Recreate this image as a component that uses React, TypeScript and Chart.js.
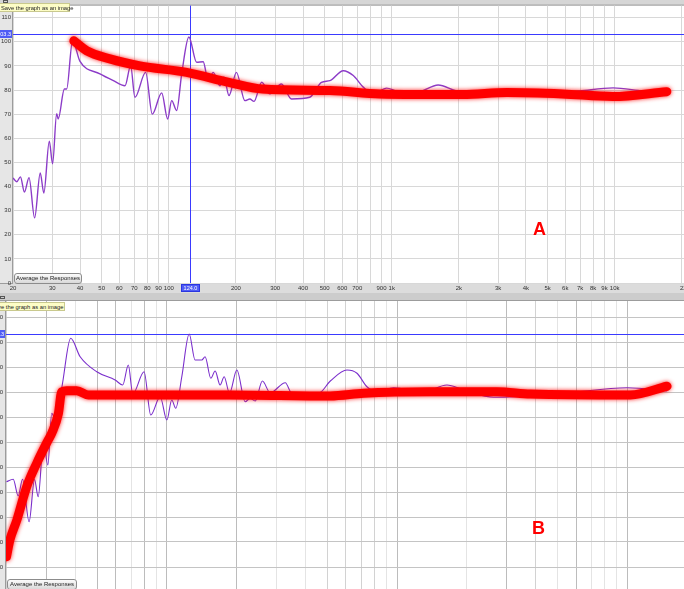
import React, { useEffect, useRef } from 'react';
import { Chart, registerables } from 'chart.js';
Chart.register(...registerables);

const FONT = '"Liberation Sans", Arial, sans-serif';

// axis ticks
const xTicks = [20, 30, 40, 50, 60, 70, 80, 90, 100, 200, 300, 400, 500, 600, 700, 800, 900, 1000, 2000, 3000, 4000, 5000, 6000, 7000, 8000, 9000, 10000, 20000];
const xTickLabels = ['20', '30', '40', '50', '60', '70', '80', '90', '100', '200', '300', '400', '500', '600', '700', '', '900', '1k', '2k', '3k', '4k', '5k', '6k', '7k', '8k', '9k', '10k', ''];
const yTicks = [0, 10, 20, 30, 40, 50, 60, 70, 80, 90, 100, 110];
const endLabel = '22k';
const cursorFreq = 124.0;
const cursorLabel = '124.0';
const refLevel = 103.3;
const refLabel = '103.3';

// chart A: measured response (Hz, dB)
const topRespFreq = [20, 20.8, 21.6, 22.5, 23.6, 25.0, 26.5, 27.5, 29.1, 30.1, 31.4, 31.9, 34.0, 34.8, 37.0, 39.9, 49.1, 56.1, 63.6, 67.4, 70.5, 78.7, 84.3, 92.9, 98.8, 103, 108.4, 114.2, 123, 133.3, 142.6, 150.2, 158.2, 169.5, 176.7, 186.2, 201, 219.5, 231, 241, 261, 284, 320, 355, 429, 484, 528, 606, 672, 745, 826, 949, 1052, 1292, 1615, 1954, 2800, 4160, 6980, 9840, 13400, 16440];
const topRespSpl = [43.5, 42, 44, 37.7, 43.7, 27, 45.6, 37.3, 58.8, 49.4, 70.2, 68, 80.4, 80.4, 100.4, 92, 86.7, 84, 81.8, 90, 77, 87.3, 70, 78.8, 68, 75.6, 71.5, 86.6, 102, 91.5, 91.7, 83.9, 87.3, 81.8, 85.3, 77.7, 87.3, 75.6, 76.3, 75.3, 83.2, 78.4, 82.5, 76.3, 77, 83.2, 83.9, 88, 86, 81.2, 78.4, 80.8, 79.6, 79, 82.1, 79.6, 78.5, 77.7, 79.6, 80.9, 79.6, 79];
// chart A: red hand-drawn target
const topTraceFreq = [37.5, 42.8, 54.4, 74.2, 120.2, 186, 264, 528, 885, 2084, 3285, 5850, 9800, 17140];
const topTraceSpl = [100.4, 96.3, 92.9, 90, 87.3, 83.2, 80.4, 79.8, 78.4, 78.1, 79, 78.4, 77.3, 79.3];

// chart B: measured response
const botRespFreq = [20.1, 21.5, 22.6, 23.6, 25.2, 26.6, 27.6, 29.1, 30.4, 31.6, 32.4, 34.9, 38.2, 42.0, 49.6, 59.6, 64.3, 68.0, 71.1, 79.6, 85.1, 93.5, 100, 105, 109.3, 116.1, 125, 132.6, 141.8, 146.6, 155.2, 162.1, 170.3, 177.4, 187.1, 201.4, 218.9, 230, 242, 260, 281, 327, 349, 456, 513, 606, 670, 740, 818, 966, 1300, 1648, 1946, 2630, 5300, 10000, 14920];
const botRespSpl = [44.1, 45.1, 38.4, 45.1, 28.1, 45, 38.1, 60, 50.8, 71.5, 70.1, 81.5, 101.5, 94.1, 88.1, 84.8, 82.8, 90.8, 79.2, 88.1, 70.8, 78.1, 68.8, 76.8, 73.5, 86.1, 103.2, 92.8, 92.8, 94.1, 85.5, 88.4, 82.8, 86.1, 79.5, 88.8, 76.1, 77.5, 76.4, 84.4, 79.7, 83.7, 79.5, 79.5, 84.4, 88.8, 87.5, 82.1, 80.1, 81.7, 80, 82.8, 80.8, 77.9, 79.5, 81.7, 80.4];
// chart B: red hand-drawn target
const botTraceFreq = [20.1, 20.8, 22.3, 24.6, 27.2, 30.5, 31.6, 33.8, 34.9, 36.7, 40.6, 45.6, 187, 513, 715, 1394, 2720, 3800, 10330, 14900];
const botTraceSpl = [14.1, 20.8, 28.8, 42.1, 51.5, 60.8, 63.5, 71.5, 80.1, 80.5, 80.5, 78.8, 78.8, 78.4, 79.5, 80.1, 80.1, 79.2, 78.8, 82.3];

const botDark = [30, 50, 60, 80, 100, 200, 1000, 3000, 6000, 10000];
const botLight = [40, 70, 90, 300, 400, 900, 2000, 5000, 7000, 8000, 9000];

const glowPlugin = {
  id: 'glow',
  beforeDatasetDraw(chart: any, args: any) {
    const ds = chart.data.datasets[args.index];
    if (ds.glow) {
      chart.ctx.save();
      chart.ctx.shadowColor = 'rgba(255,0,0,0.85)';
      chart.ctx.shadowBlur = 4;
    }
  },
  afterDatasetDraw(chart: any, args: any) {
    const ds = chart.data.datasets[args.index];
    if (ds.glow) chart.ctx.restore();
  },
};

const framePlugin = {
  id: 'frame',
  beforeDraw(chart: any, _a: any, o: any) {
    const { ctx, chartArea: a, width, height } = chart;
    ctx.save();
    ctx.fillStyle = '#e6e6e6';
    ctx.fillRect(0, 0, width, height);
    ctx.fillStyle = o.header;
    ctx.fillRect(0, 0, width, a.top);
    ctx.fillStyle = '#dcdcdc';
    ctx.fillRect(0, a.bottom, width, height - a.bottom);
    ctx.fillStyle = '#ffffff';
    ctx.fillRect(a.left, a.top, a.right - a.left, a.bottom - a.top);
    ctx.strokeStyle = '#9c9c9c';
    ctx.lineWidth = 1;
    ctx.beginPath();
    ctx.moveTo(0, a.top - 0.5);
    ctx.lineTo(width, a.top - 0.5);
    ctx.moveTo(0, a.bottom + 0.5);
    ctx.lineTo(width, a.bottom + 0.5);
    ctx.moveTo(a.left - 0.5, a.top);
    ctx.lineTo(a.left - 0.5, a.bottom);
    ctx.stroke();
    ctx.restore();
  },
  beforeDatasetsDraw(chart: any, _a: any, o: any) {
    const { ctx, chartArea: a, scales } = chart;
    ctx.save();
    ctx.strokeStyle = '#3a3aff';
    ctx.lineWidth = 1;
    const y = Math.round(scales.y.getPixelForValue(refLevel)) + 0.5;
    ctx.beginPath();
    ctx.moveTo(a.left, y);
    ctx.lineTo(a.right, y);
    if (o.cursor) {
      const x = Math.round(scales.x.getPixelForValue(cursorFreq)) + 0.5;
      ctx.moveTo(x, a.top);
      ctx.lineTo(x, a.bottom);
    }
    ctx.stroke();
    ctx.restore();
  },
  afterDraw(chart: any, _a: any, o: any) {
    const { ctx, chartArea: a, scales } = chart;
    ctx.save();
    const y = Math.round(scales.y.getPixelForValue(refLevel));
    ctx.beginPath();
    ctx.rect(0, y - 4, a.left - 1, 8);
    ctx.fillStyle = '#4f5cf5';
    ctx.fill();
    ctx.clip();
    ctx.fillStyle = '#ffffff';
    ctx.font = `5.5px ${FONT}`;
    ctx.textAlign = 'right';
    ctx.textBaseline = 'middle';
    ctx.fillText(refLabel, a.left - 2, y + 0.5);
    ctx.restore();
    if (o.cursor) {
      ctx.save();
      const x = Math.round(scales.x.getPixelForValue(cursorFreq));
      ctx.fillStyle = '#4f5cf5';
      ctx.fillRect(x - 9, a.bottom + 1, 19, 8);
      ctx.strokeStyle = '#2b36e0';
      ctx.strokeRect(x - 8.5, a.bottom + 1.5, 18, 7);
      ctx.fillStyle = '#ffffff';
      ctx.font = `5.5px ${FONT}`;
      ctx.textAlign = 'center';
      ctx.textBaseline = 'middle';
      ctx.fillText(cursorLabel, x + 0.5, a.bottom + 5.5);
      ctx.restore();
    }
    if (o.end) {
      ctx.save();
      ctx.fillStyle = '#333';
      ctx.font = `6px ${FONT}`;
      ctx.textAlign = 'left';
      ctx.textBaseline = 'middle';
      ctx.fillText(endLabel, scales.x.getPixelForValue(22000) - 11, a.bottom + 5.5);
      ctx.restore();
    }
  },
};

type Spec = {
  left: number; top: number; w: number; h: number;
  yAxisW: number; yPad: number; xAxisH: number; padTop: number; padRight: number; yMax: number;
  respF: number[]; respV: number[]; traceF: number[]; traceV: number[];
  purple: string; purpleW: number; header: string; cursor: boolean; end: boolean;
  vGrid: (v: number) => string; hGrid: string;
};

function makeConfig(s: Spec): any {
  const labelFor = (v: number) => {
    const i = xTicks.indexOf(v);
    return i >= 0 ? xTickLabels[i] : '';
  };
  return {
    type: 'line',
    data: {
      datasets: [
        {
          label: 'target',
          data: s.traceF.map((f, i) => ({ x: f, y: s.traceV[i] })),
          borderColor: '#ff0000',
          borderWidth: 9,
          borderCapStyle: 'round',
          borderJoinStyle: 'round',
          cubicInterpolationMode: 'monotone',
          pointRadius: 0,
          order: 0,
          glow: true,
        },
        {
          label: 'response',
          data: s.respF.map((f, i) => ({ x: f, y: s.respV[i] })),
          borderColor: s.purple,
          borderWidth: s.purpleW,
          cubicInterpolationMode: 'monotone',
          pointRadius: 0,
          order: 1,
        },
      ],
    },
    options: {
      responsive: false,
      animation: false,
      devicePixelRatio: 1,
      layout: { padding: { top: s.padTop, right: s.padRight, left: 0, bottom: 0 } },
      plugins: {
        legend: { display: false },
        tooltip: { enabled: false },
        frame: { header: s.header, cursor: s.cursor, end: s.end },
      },
      scales: {
        x: {
          type: 'logarithmic',
          min: 20,
          max: 22000,
          afterBuildTicks: (sc: any) => { sc.ticks = xTicks.map((v) => ({ value: v })); },
          afterFit: (sc: any) => { sc.height = s.xAxisH; },
          ticks: {
            autoSkip: false, maxRotation: 0, minRotation: 0, padding: 2,
            font: { size: 6, family: FONT }, color: '#333',
            callback: (v: any) => labelFor(Number(v)),
          },
          grid: { color: (c: any) => s.vGrid(c.tick ? c.tick.value : 0), drawTicks: false, lineWidth: 1 },
          border: { display: false },
        },
        y: {
          type: 'linear',
          min: 0,
          max: s.yMax,
          afterBuildTicks: (sc: any) => { sc.ticks = yTicks.map((v) => ({ value: v })); },
          afterFit: (sc: any) => { sc.width = s.yAxisW; },
          ticks: { padding: s.yPad, font: { size: 6, family: FONT }, color: '#333' },
          grid: { color: s.hGrid, drawTicks: false, lineWidth: 1 },
          border: { display: false },
        },
      },
    },
    plugins: [framePlugin, glowPlugin],
  };
}

function FreqChart({ spec }: { spec: Spec }) {
  const ref = useRef<HTMLCanvasElement>(null);
  useEffect(() => {
    const chart = new Chart(ref.current as HTMLCanvasElement, makeConfig(spec));
    return () => chart.destroy();
  }, []);
  return (
    <canvas
      ref={ref}
      width={spec.w}
      height={spec.h}
      style={{ position: 'absolute', left: spec.left, top: spec.top, width: spec.w, height: spec.h }}
    />
  );
}

const topSpec: Spec = {
  left: 0, top: 0, w: 692, h: 293, yAxisW: 13, yPad: 2, xAxisH: 10, padTop: 5, padRight: 1, yMax: 115,
  respF: topRespFreq, respV: topRespSpl, traceF: topTraceFreq, traceV: topTraceSpl,
  purple: '#8c3cc8', purpleW: 1.4, header: '#d6d6d6', cursor: true, end: true,
  vGrid: () => '#d8d8d8', hGrid: '#d8d8d8',
};

const botSpec: Spec = {
  left: -8, top: 293, w: 714, h: 309, yAxisW: 14, yPad: 3, xAxisH: 10, padTop: 8, padRight: 0, yMax: 116.4,
  respF: botRespFreq, respV: botRespSpl, traceF: botTraceFreq, traceV: botTraceSpl,
  purple: '#7a2ecc', purpleW: 1.1, header: '#cccccc', cursor: false, end: false,
  vGrid: (v: number) => (botDark.includes(v) ? '#bcbcbc' : botLight.includes(v) ? '#e4e4e4' : '#d2d2d2'),
  hGrid: '#c4c4c4',
};

const tipStyle: React.CSSProperties = {
  position: 'absolute', height: 9, background: '#fdfdc6', border: '1px solid #c9c98e',
  font: `5.8px ${FONT}`, lineHeight: '8px', color: '#222', whiteSpace: 'nowrap', paddingLeft: 1, boxSizing: 'border-box',
};
const btnStyle: React.CSSProperties = {
  position: 'absolute', height: 11, border: '1px solid #8c8c8c', borderRadius: 3,
  background: 'linear-gradient(#fbfbfb, #d9d9d9)', font: `6px ${FONT}`, lineHeight: '9px',
  color: '#222', textAlign: 'center', boxSizing: 'border-box', whiteSpace: 'nowrap',
};
const iconStyle: React.CSSProperties = {
  position: 'absolute', width: 5, height: 3, border: '1px solid #555', boxSizing: 'border-box',
};
const letterStyle: React.CSSProperties = {
  position: 'absolute', color: '#ff0000', font: `bold 18px ${FONT}`, lineHeight: 1,
};

export default function App() {
  return (
    <div style={{ position: 'fixed', left: 0, top: 0, width: 684, height: 589, overflow: 'hidden', background: '#fff' }}>
      <FreqChart spec={topSpec} />
      <FreqChart spec={botSpec} />
      <div style={{ ...iconStyle, left: 3, top: 0 }} />
      <div style={{ ...iconStyle, left: 0, top: 296 }} />
      <div style={{ ...tipStyle, left: -1, top: 3, width: 71 }}>Save the graph as an image</div>
      <div style={{ ...tipStyle, left: -11, top: 302, width: 76 }}>Save the graph as an image</div>
      <div style={{ ...btnStyle, left: 14, top: 273, width: 68 }}>Average the Responses</div>
      <div style={{ ...btnStyle, left: 7, top: 579, width: 70 }}>Average the Responses</div>
      <div style={{ ...letterStyle, left: 533, top: 220 }}>A</div>
      <div style={{ ...letterStyle, left: 532, top: 519 }}>B</div>
    </div>
  );
}
